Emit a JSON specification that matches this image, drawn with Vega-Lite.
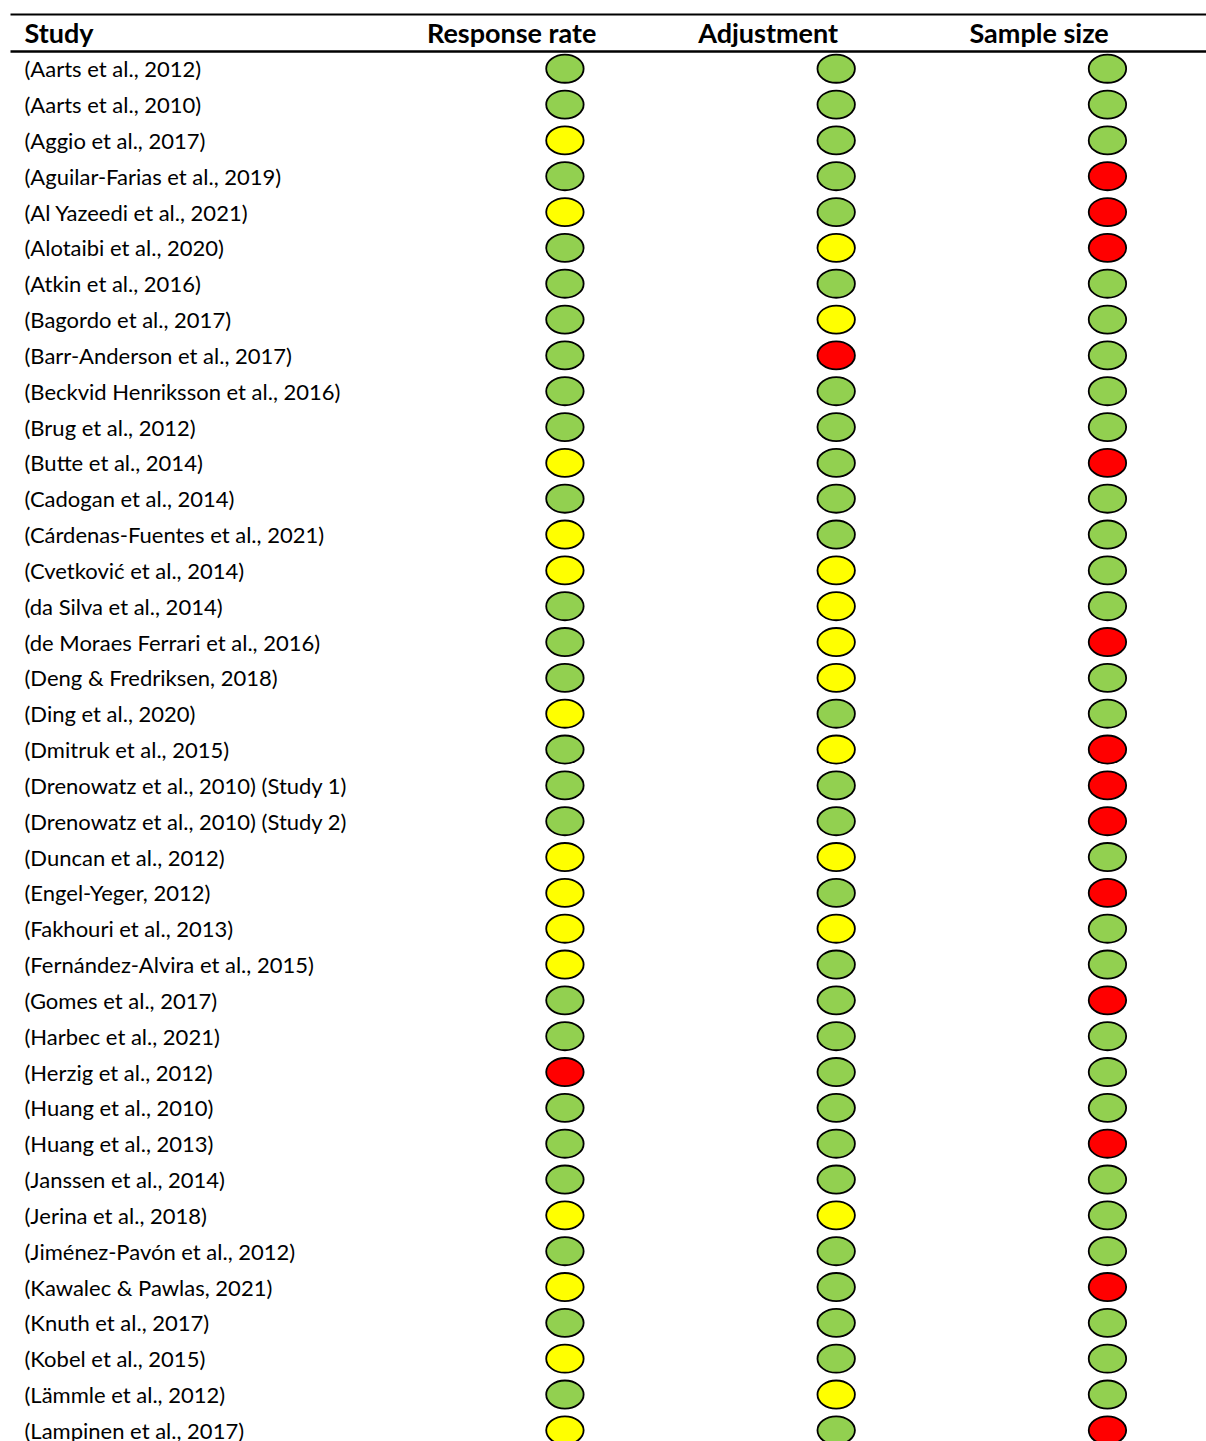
{
  "$schema": "https://vega.github.io/schema/vega-lite/v6.json",
  "autosize": {"type": "none"},
  "padding": {"left": 10, "top": 51, "right": 0, "bottom": 0},
  "width": 1196,
  "height": 1390,
  "background": "white",
  "config": {"view": {"stroke": null}, "font": "Lato"},
  "data": {
    "values": [
      {"study": "(Aarts et al., 2012)", "Response rate": "G", "Adjustment": "G", "Sample size": "G"},
      {"study": "(Aarts et al., 2010)", "Response rate": "G", "Adjustment": "G", "Sample size": "G"},
      {"study": "(Aggio et al., 2017)", "Response rate": "Y", "Adjustment": "G", "Sample size": "G"},
      {"study": "(Aguilar-Farias et al., 2019)", "Response rate": "G", "Adjustment": "G", "Sample size": "R"},
      {"study": "(Al Yazeedi et al., 2021)", "Response rate": "Y", "Adjustment": "G", "Sample size": "R"},
      {"study": "(Alotaibi et al., 2020)", "Response rate": "G", "Adjustment": "Y", "Sample size": "R"},
      {"study": "(Atkin et al., 2016)", "Response rate": "G", "Adjustment": "G", "Sample size": "G"},
      {"study": "(Bagordo et al., 2017)", "Response rate": "G", "Adjustment": "Y", "Sample size": "G"},
      {"study": "(Barr-Anderson et al., 2017)", "Response rate": "G", "Adjustment": "R", "Sample size": "G"},
      {"study": "(Beckvid Henriksson et al., 2016)", "Response rate": "G", "Adjustment": "G", "Sample size": "G"},
      {"study": "(Brug et al., 2012)", "Response rate": "G", "Adjustment": "G", "Sample size": "G"},
      {"study": "(Butte et al., 2014)", "Response rate": "Y", "Adjustment": "G", "Sample size": "R"},
      {"study": "(Cadogan et al., 2014)", "Response rate": "G", "Adjustment": "G", "Sample size": "G"},
      {"study": "(Cárdenas-Fuentes et al., 2021)", "Response rate": "Y", "Adjustment": "G", "Sample size": "G"},
      {"study": "(Cvetković et al., 2014)", "Response rate": "Y", "Adjustment": "Y", "Sample size": "G"},
      {"study": "(da Silva et al., 2014)", "Response rate": "G", "Adjustment": "Y", "Sample size": "G"},
      {"study": "(de Moraes Ferrari et al., 2016)", "Response rate": "G", "Adjustment": "Y", "Sample size": "R"},
      {"study": "(Deng & Fredriksen, 2018)", "Response rate": "G", "Adjustment": "Y", "Sample size": "G"},
      {"study": "(Ding et al., 2020)", "Response rate": "Y", "Adjustment": "G", "Sample size": "G"},
      {"study": "(Dmitruk et al., 2015)", "Response rate": "G", "Adjustment": "Y", "Sample size": "R"},
      {"study": "(Drenowatz et al., 2010) (Study 1)", "Response rate": "G", "Adjustment": "G", "Sample size": "R"},
      {"study": "(Drenowatz et al., 2010) (Study 2)", "Response rate": "G", "Adjustment": "G", "Sample size": "R"},
      {"study": "(Duncan et al., 2012)", "Response rate": "Y", "Adjustment": "Y", "Sample size": "G"},
      {"study": "(Engel-Yeger, 2012)", "Response rate": "Y", "Adjustment": "G", "Sample size": "R"},
      {"study": "(Fakhouri et al., 2013)", "Response rate": "Y", "Adjustment": "Y", "Sample size": "G"},
      {"study": "(Fernández-Alvira et al., 2015)", "Response rate": "Y", "Adjustment": "G", "Sample size": "G"},
      {"study": "(Gomes et al., 2017)", "Response rate": "G", "Adjustment": "G", "Sample size": "R"},
      {"study": "(Harbec et al., 2021)", "Response rate": "G", "Adjustment": "G", "Sample size": "G"},
      {"study": "(Herzig et al., 2012)", "Response rate": "R", "Adjustment": "G", "Sample size": "G"},
      {"study": "(Huang et al., 2010)", "Response rate": "G", "Adjustment": "G", "Sample size": "G"},
      {"study": "(Huang et al., 2013)", "Response rate": "G", "Adjustment": "G", "Sample size": "R"},
      {"study": "(Janssen et al., 2014)", "Response rate": "G", "Adjustment": "G", "Sample size": "G"},
      {"study": "(Jerina et al., 2018)", "Response rate": "Y", "Adjustment": "Y", "Sample size": "G"},
      {"study": "(Jiménez-Pavón et al., 2012)", "Response rate": "G", "Adjustment": "G", "Sample size": "G"},
      {"study": "(Kawalec & Pawlas, 2021)", "Response rate": "Y", "Adjustment": "G", "Sample size": "R"},
      {"study": "(Knuth et al., 2017)", "Response rate": "G", "Adjustment": "G", "Sample size": "G"},
      {"study": "(Kobel et al., 2015)", "Response rate": "Y", "Adjustment": "G", "Sample size": "G"},
      {"study": "(Lämmle et al., 2012)", "Response rate": "G", "Adjustment": "Y", "Sample size": "G"},
      {"study": "(Lampinen et al., 2017)", "Response rate": "Y", "Adjustment": "G", "Sample size": "R"}
    ]
  },
  "transform": [
    {"fold": ["Response rate", "Adjustment", "Sample size"], "as": ["criterion", "rating"]}
  ],
  "encoding": {
    "y": {
      "field": "study",
      "type": "nominal",
      "sort": null,
      "scale": {"type": "point", "padding": 0.396, "align": 0.625},
      "axis": {
        "orient": "left",
        "title": "Study",
        "titleAngle": 0,
        "titleAlign": "left",
        "titleBaseline": "alphabetic",
        "titleX": 14,
        "titleY": -9,
        "titleFont": "Lato",
        "titleFontSize": 27,
        "titleFontWeight": "bold",
        "titleColor": "black",
        "labelAlign": "left",
        "labelBaseline": "alphabetic",
        "labelOffset": 8,
        "labelPadding": -14,
        "labelFont": "Lato",
        "labelFontSize": 22,
        "labelColor": "black",
        "labelLimit": 600,
        "labelOverlap": false,
        "ticks": false,
        "tickSize": 0,
        "domain": false,
        "grid": false
      }
    }
  },
  "layer": [
    {
      "mark": {
        "type": "point",
        "shape": "M -1 0 C -1 -0.4142 -0.5523 -0.75 0 -0.75 C 0.5523 -0.75 1 -0.4142 1 0 C 1 0.4142 0.5523 0.75 0 0.75 C -0.5523 0.75 -1 0.4142 -1 0 Z",
        "size": 1400,
        "filled": true,
        "stroke": "black",
        "strokeWidth": 1.8,
        "opacity": 1,
        "fillOpacity": 1
      },
      "encoding": {
        "x": {
          "field": "criterion",
          "type": "nominal",
          "scale": {"type": "band", "domain": ["Response rate", "Adjustment", "Sample size"], "paddingInner": 0.591, "paddingOuter": 1, "align": 0.9206},
          "axis": {
            "orient": "top",
            "title": null,
            "bandPosition": 0.5,
            "labelAngle": 0,
            "labelAlign": "left",
            "labelOffset": -138,
            "labelBaseline": "alphabetic",
            "labelPadding": 9,
            "labelFont": "Lato",
            "labelFontSize": 27,
            "labelFontWeight": "bold",
            "labelColor": "black",
            "ticks": false,
            "tickSize": 0,
            "domain": true,
            "domainColor": "black",
            "domainWidth": 2.5,
            "grid": false
          }
        },
        "fill": {
          "field": "rating",
          "type": "nominal",
          "scale": {"domain": ["G", "Y", "R"], "range": ["#92D050", "#FFFF00", "#FF0000"]},
          "legend": null
        }
      }
    },
    {
      "mark": {"type": "point", "opacity": 0},
      "encoding": {
        "x": {
          "field": "criterion",
          "type": "nominal",
          "scale": {"type": "band", "domain": ["Response rate", "Adjustment", "Sample size"], "paddingInner": 0.591, "paddingOuter": 1, "align": 0.9206},
          "axis": {
            "orient": "top",
            "offset": 37,
            "title": null,
            "labels": false,
            "ticks": false,
            "tickSize": 0,
            "domain": true,
            "domainColor": "black",
            "domainWidth": 2,
            "grid": false
          }
        }
      }
    }
  ],
  "resolve": {"axis": {"x": "independent"}}
}
